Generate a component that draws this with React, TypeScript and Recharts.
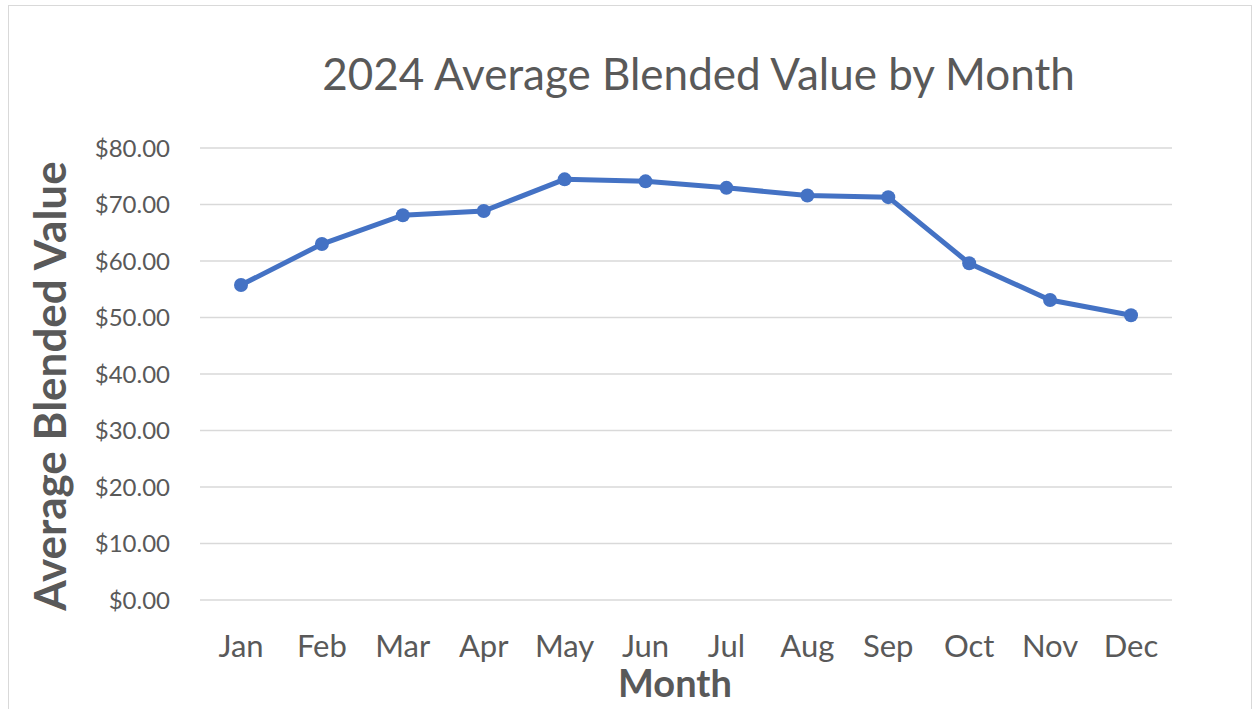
import React from 'react';
import { LineChart, Line, XAxis, YAxis, CartesianGrid, Label } from 'recharts';

const months = ['Jan', 'Feb', 'Mar', 'Apr', 'May', 'Jun', 'Jul', 'Aug', 'Sep', 'Oct', 'Nov', 'Dec'];
const values = [55.75, 63.0, 68.1, 68.85, 74.45, 74.1, 72.95, 71.6, 71.3, 59.6, 53.1, 50.4];
const yTicks = [0, 10, 20, 30, 40, 50, 60, 70, 80];
const title = '2024 Average Blended Value by Month';
const xTitle = 'Month';
const yTitle = 'Average Blended Value';

const data = months.map((m, i) => ({ month: m, value: values[i] }));

const FONT = 'Lato, "Open Sans", sans-serif';
const TEXT = '#595959';

export default function App() {
  return (
    <div style={{ position: 'absolute', left: 0, top: 0, width: 1256, height: 709, overflow: 'hidden', background: '#fff' }}>
      <div style={{ position: 'absolute', left: 8, top: 5, width: 1242, height: 720, border: '1px solid #d9d9d9' }} />
      <div
        style={{
          position: 'absolute',
          left: 0,
          width: 1397,
          top: 45,
          textAlign: 'center',
          fontFamily: FONT,
          fontSize: 44,
          color: TEXT,
          lineHeight: '56px',
        }}
      >
        {title}
      </div>
      <div style={{ position: 'absolute', left: 0, top: 0 }}>
        <LineChart width={1256} height={709} data={data} margin={{ top: 148, right: 84, bottom: 0, left: 0 }}>
          <CartesianGrid vertical={false} stroke="#d9d9d9" strokeWidth={1.5} />
          <XAxis
            dataKey="month"
            axisLine={false}
            tickLine={false}
            tickSize={0}
            tickMargin={35}
            height={109}
            interval={0}
            padding={{ left: 41, right: 41 }}
            tick={{ fill: TEXT, fontSize: 31, fontFamily: FONT }}
          >
            <Label
              value={xTitle}
              position="insideBottom"
              offset={12}
              dx={-11}
              style={{ fill: TEXT, fontSize: 38, fontWeight: 700, fontFamily: FONT }}
            />
          </XAxis>
          <YAxis
            domain={[0, 80]}
            ticks={yTicks}
            interval={0}
            axisLine={false}
            tickLine={false}
            tickSize={0}
            tickMargin={30}
            width={200}
            tickFormatter={(v: number) => `$${v.toFixed(2)}`}
            tick={{ fill: TEXT, fontSize: 24, fontFamily: FONT }}
          >
            <Label
              value={yTitle}
              angle={-90}
              position="insideLeft"
              offset={50}
              dy={12}
              style={{ fill: TEXT, fontSize: 44, fontWeight: 700, fontFamily: FONT, textAnchor: 'middle' }}
            />
          </YAxis>
          <Line
            type="linear"
            dataKey="value"
            stroke="#4472C4"
            strokeWidth={5}
            dot={{ r: 7, fill: '#4472C4', stroke: '#4472C4', strokeWidth: 0 }}
            isAnimationActive={false}
          />
        </LineChart>
      </div>
    </div>
  );
}
